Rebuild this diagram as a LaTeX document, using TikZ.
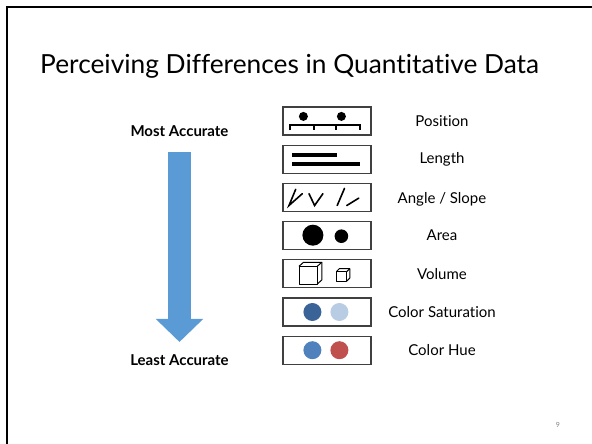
\documentclass[tikz,border=0pt]{standalone}
\usepackage{fontspec}
\setmainfont{Lato}[Ligatures=NoCommon]
\usetikzlibrary{positioning}
\usetikzlibrary{arrows.meta}
\definecolor{arrowblue}{HTML}{5B9BD5}
\definecolor{satdark}{HTML}{3A6398}
\definecolor{satlight}{HTML}{B8CCE4}
\definecolor{hueblue}{HTML}{4F81BD}
\definecolor{huered}{HTML}{C0504D}
\tikzset{
	cue/.style={rectangle, draw=black!75, line width=1.2pt, minimum width=88pt, minimum height=28pt, inner sep=0pt},
	cuename/.style={font=\fontsize{15}{17}\selectfont},
	rank/.style={font=\bfseries\fontsize{15}{17}\selectfont},
	glyph/.style={line width=1.6pt, line cap=round}
}

\begin{document}
\begin{tikzpicture}[x=1pt, y=-1pt, node distance=9pt]
	\useasboundingbox (0,0) rectangle (592,444);
	\draw[line width=2.5pt] (7,450) -- (7,7) -- (600,7);
	\node[anchor=base west, inner sep=0pt, font=\fontsize{26.3}{29}\selectfont] (title) at (40,74) {Perceiving Differences in Quantitative Data};

	\node[cue] (position) at (327,121) {};
	\node[cue, below=of position] (length) {};
	\node[cue, below=of length] (angle) {};
	\node[cue, below=of angle] (area) {};
	\node[cue, below=of area] (volume) {};
	\node[cue, below=of volume] (sat) {};
	\node[cue, below=of sat] (hue) {};

	\node[cuename] (positionlbl) at ([xshift=115pt]position.center) {Position};
	\node[cuename] (lengthlbl) at ([xshift=115pt]length.center) {Length};
	\node[cuename] (anglelbl) at ([xshift=115pt, yshift=-2pt]angle.center) {Angle / Slope};
	\node[cuename] (arealbl) at ([xshift=115pt]area.center) {Area};
	\node[cuename] (volumelbl) at ([xshift=115pt]volume.center) {Volume};
	\node[cuename] (satlbl) at ([xshift=115pt]sat.center) {Color Saturation};
	\node[cuename] (huelbl) at ([xshift=115pt]hue.center) {Color Hue};

	\node[rank] (most) at (179.5,131) {Most Accurate};
	\node[rank] (least) at (179.5,360) {Least Accurate};
	\draw[arrowblue, line width=23pt, -{Triangle[width=46pt, length=23pt]}] ([yshift=-12pt]most.south) -- ([yshift=9pt]least.north);

	% position
	\begin{scope}[shift={(position.north west)}]
		\fill (21,10) circle (4.5);
		\fill (59,10) circle (4.5);
		\draw[line width=2pt] (7.5,24) -- (7.5,19) -- (78,19) -- (78,24);
		\draw[line width=2pt] (32,19) -- (32,24) (54,19) -- (54,24);
	\end{scope}
	% length
	\begin{scope}[shift={(length.north west)}]
		\fill (9.6,8.4) rectangle (54.4,12.4);
		\fill (9.6,17.4) rectangle (77.7,21.5);
	\end{scope}
	% angle / slope
	\begin{scope}[shift={(angle.north west)}, glyph]
		\draw (13.3,6.5) -- (6.6,22.7) -- (19.9,10.9);
		\draw (26.6,10.9) -- (32.2,22.7) -- (40.5,10.9);
		\draw (54.8,22.7) -- (62.1,5.6);
		\draw (64.4,22.7) -- (76.4,15.3);
	\end{scope}
	% area
	\begin{scope}[shift={(area.north west)}]
		\fill (30.5,14.2) circle (10.5);
		\fill (59,15.2) circle (6.8);
	\end{scope}
	% volume
	\begin{scope}[shift={(volume.north west)}, line width=1pt, line join=round]
		\draw (16.6,7.1) rectangle (34.9,24.8);
		\draw (16.6,7.1) -- (21.1,3.1) -- (39.4,3.1) -- (39.4,20.8) -- (34.9,24.8);
		\draw (34.9,7.1) -- (39.4,3.1);
		\draw (54,12.4) rectangle (64.4,21.8);
		\draw (54,12.4) -- (57,9.4) -- (67.4,9.4) -- (67.4,18.8) -- (64.4,21.8);
		\draw (64.4,12.4) -- (67.4,9.4);
	\end{scope}
	% colour
	\fill[satdark] ([xshift=30pt]sat.west) circle (9);
	\fill[satlight] ([xshift=57pt]sat.west) circle (9);
	\fill[hueblue] ([xshift=30pt]hue.west) circle (9);
	\fill[huered] ([xshift=57pt]hue.west) circle (9);

	\node[gray, font=\fontsize{7}{8}\selectfont] (page) at (558,425) {9};
\end{tikzpicture}
\end{document}
